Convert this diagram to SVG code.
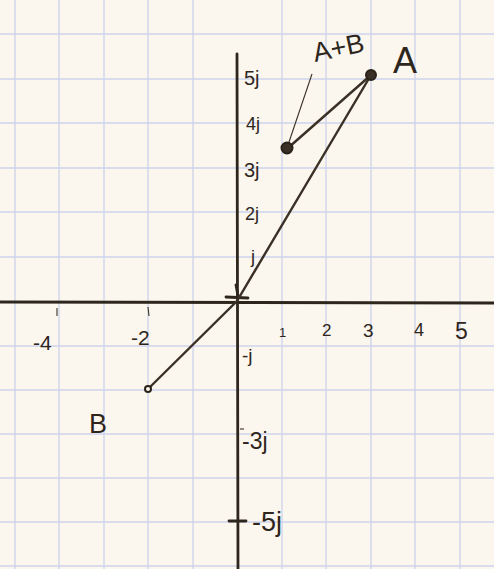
<svg xmlns="http://www.w3.org/2000/svg" width="494" height="569" viewBox="0 0 494 569">
<defs>
<style>
.grid line{stroke:#cdd3ec;stroke-width:1.3}
.ax{stroke:#2e261d;stroke-width:2.8;fill:none;stroke-linecap:round}
.vec{stroke:#3a3026;stroke-width:2.4;fill:none;stroke-linecap:round}
.thin{stroke:#3a3026;stroke-width:1.1;fill:none}
.lbl{font-family:"Liberation Sans","DejaVu Sans",sans-serif;fill:#2e261d}
.dot{fill:#3a3026;stroke:#2a2219;stroke-width:2}
</style>
</defs>
<rect width="494" height="569" fill="#fbf7ee"/>
<g class="grid">
<line x1="15" y1="0" x2="15" y2="569"/>
<line x1="59" y1="0" x2="59" y2="569"/>
<line x1="104" y1="0" x2="104" y2="569"/>
<line x1="148" y1="0" x2="148" y2="569"/>
<line x1="193" y1="0" x2="193" y2="569"/>
<line x1="282" y1="0" x2="282" y2="569"/>
<line x1="326" y1="0" x2="326" y2="569"/>
<line x1="371" y1="0" x2="371" y2="569"/>
<line x1="415" y1="0" x2="415" y2="569"/>
<line x1="460" y1="0" x2="460" y2="569"/>
<line x1="0" y1="34" x2="494" y2="34"/>
<line x1="0" y1="79" x2="494" y2="79"/>
<line x1="0" y1="123" x2="494" y2="123"/>
<line x1="0" y1="168" x2="494" y2="168"/>
<line x1="0" y1="212" x2="494" y2="212"/>
<line x1="0" y1="257" x2="494" y2="257"/>
<line x1="0" y1="346" x2="494" y2="346"/>
<line x1="0" y1="390" x2="494" y2="390"/>
<line x1="0" y1="434" x2="494" y2="434"/>
<line x1="0" y1="478" x2="494" y2="478"/>
<line x1="0" y1="522" x2="494" y2="522"/>
<line x1="0" y1="566" x2="494" y2="566"/>
</g>
<g id="axes">
<line class="ax" x1="0" y1="302" x2="494" y2="303"/>
<line class="ax" x1="237" y1="54" x2="238" y2="569"/>
<line class="ax" x1="226" y1="297" x2="248" y2="298"/>
<line class="ax" x1="236" y1="285" x2="238" y2="296"/>
<line class="ax" x1="229" y1="521" x2="246" y2="521"/>
<line class="thin" x1="57" y1="308" x2="57" y2="316"/>
<line class="thin" x1="148" y1="307" x2="149" y2="316"/>
<line class="thin" x1="240" y1="429" x2="244" y2="429"/>
</g>
<g id="labels" class="lbl">
<text x="244" y="85" font-size="20">5j</text>
<text x="246" y="130" font-size="18">4j</text>
<text x="244" y="177" font-size="20">3j</text>
<text x="245" y="220" font-size="18">2j</text>
<text x="251" y="263" font-size="18">j</text>
<text x="242" y="362" font-size="19">-j</text>
<text x="242" y="449" font-size="23">-3j</text>
<text x="252" y="531" font-size="27">-5j</text>
<text x="33" y="350" font-size="21">-4</text>
<text x="131" y="345" font-size="21">-2</text>
<text x="279" y="337" font-size="13">1</text>
<text x="322" y="336" font-size="17">2</text>
<text x="363" y="337" font-size="19">3</text>
<text x="414" y="336" font-size="18">4</text>
<text x="455" y="339" font-size="23">5</text>
</g>
<g id="connectors">
<polyline class="vec" points="148,389 237,301 371,75"/>
<line class="vec" x1="288" y1="148" x2="371" y2="75"/>
<line class="thin" x1="288" y1="145" x2="312" y2="74"/>
</g>
<g id="A">
<circle class="dot" cx="371" cy="75" r="5"/>
<text class="lbl" x="393" y="73" font-size="36">A</text>
</g>
<g id="AplusB">
<circle class="dot" cx="287" cy="148" r="5.5"/>
<text class="lbl" x="315" y="62" font-size="27" transform="rotate(-12 315 62)">A+B</text>
</g>
<g id="B">
<circle cx="148" cy="389" r="3" fill="#fbf7ee" stroke="#2a2219" stroke-width="2"/>
<text class="lbl" x="89" y="433" font-size="27">B</text>
</g>
</svg>
